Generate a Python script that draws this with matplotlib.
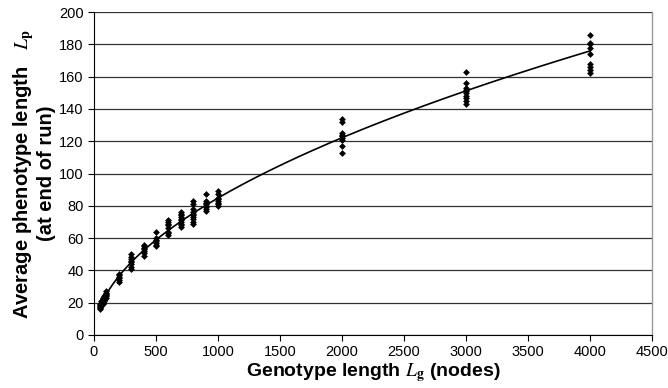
import numpy as np
import matplotlib
matplotlib.use("Agg")
import matplotlib.pyplot as plt

plt.rcParams['font.family'] = ['Liberation Sans', 'DejaVu Sans']
plt.rcParams['mathtext.fontset'] = 'stix'

# Genotype lengths and observed average phenotype lengths (runs)
g50 = [16, 17, 17.5, 18, 18.5, 19]
g60 = [18, 18.5, 19, 19.5, 20, 21]
g70 = [19, 20, 20.5, 21, 22, 23]
g80 = [21, 21.5, 22, 23, 23.5, 24]
g90 = [22, 23, 23.5, 24, 24.5, 25]
g100 = [23, 24, 25, 25.5, 26, 27]
g200 = [33, 34, 35, 36, 37, 38]
g300 = [41, 42, 44, 45, 46, 47, 48, 50]
g400 = [49, 51, 52, 53, 54, 55, 56]
g500 = [55, 56, 57, 58, 59, 60, 64]
g600 = [62, 63, 64, 66, 68, 69, 70, 71]
g700 = [67, 68, 69, 70, 71, 72, 73, 74, 75, 76]
g800 = [69, 70, 72, 73, 74, 75, 76, 78, 81, 83]
g900 = [77, 78, 79, 80, 81, 82, 83, 87]
g1000 = [80, 81, 82, 83, 84, 85, 87, 89]
g2000 = [113, 117, 121, 122, 123, 124, 125, 132, 134]
g3000 = [143, 145, 147, 148, 150, 151, 152, 153, 156, 163]
g4000 = [162, 164, 166, 168, 174, 178, 180, 181, 186]

genotype_lengths = [50, 60, 70, 80, 90, 100, 200, 300, 400, 500, 600, 700,
                    800, 900, 1000, 2000, 3000, 4000]
phenotype_runs = [g50, g60, g70, g80, g90, g100, g200, g300, g400, g500, g600,
                  g700, g800, g900, g1000, g2000, g3000, g4000]

xs = np.concatenate([[g] * len(v) for g, v in zip(genotype_lengths, phenotype_runs)])
ys = np.concatenate(phenotype_runs)

# power-law trend line fitted to the data
b, loga = np.polyfit(np.log(xs), np.log(ys), 1)
xf = np.linspace(50, 4000, 300)
yf = np.exp(loga) * xf ** b

fig = plt.figure(figsize=(6.68, 3.88), dpi=100)
ax = fig.add_axes([94 / 668, 1 - 335 / 388, (652 - 94) / 668, (335 - 12) / 388])

ax.set_xlim(0, 4500)
ax.set_ylim(0, 200)
ax.set_xticks(np.arange(0, 4501, 500))
ax.set_yticks(np.arange(0, 201, 20))
ax.yaxis.grid(True, color='#333333', lw=0.9)
ax.set_axisbelow(True)

ax.scatter(xs, ys, marker='D', s=12, color='black', zorder=3, linewidths=0)
ax.plot(xf, yf, color='black', lw=1.2, zorder=4)

ax.spines['top'].set_visible(False)
ax.spines['right'].set_color('#999999')
ax.spines['right'].set_linewidth(1.0)
ax.spines['left'].set_color('black')
ax.spines['bottom'].set_color('black')
ax.tick_params(axis='both', labelsize=10.5, direction='out', length=4, width=0.8, color='black')

ax.set_xlabel(r"Genotype length $\mathit{L}_{\mathbf{g}}$ (nodes)",
              fontsize=14, fontweight='bold', labelpad=1)
ax.set_ylabel("Average phenotype length   $\\mathit{L}_{\\mathbf{p}}$\n(at end of run)",
              fontsize=14.5, fontweight='bold', labelpad=2, linespacing=1.05)

fig.savefig("out.png", dpi=100)
